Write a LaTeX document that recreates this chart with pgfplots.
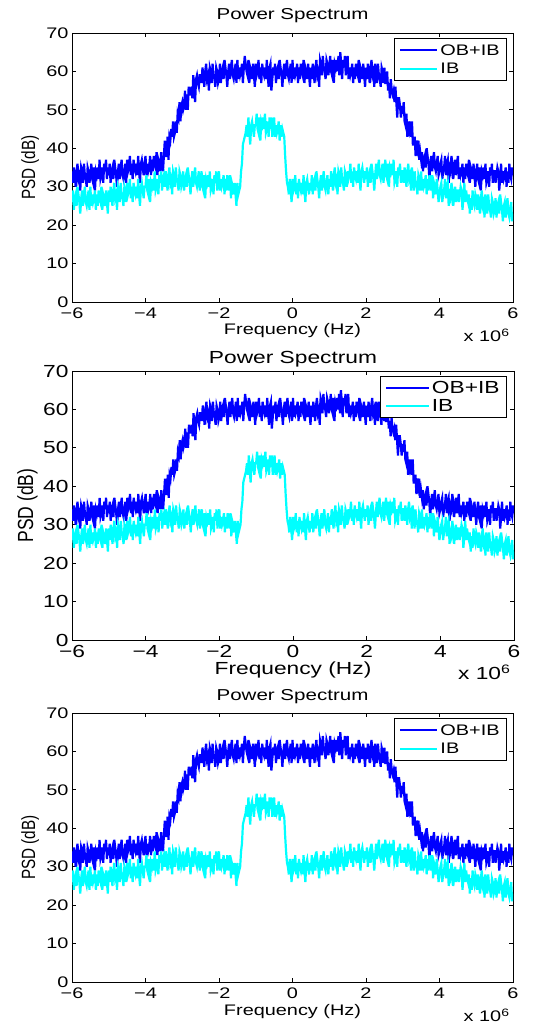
\documentclass[border=0pt]{standalone}
\usepackage{pgfplots}
\pgfplotsset{compat=1.18}
\usepackage{pgfplotstable}
\usepackage{fontspec}
\setmainfont{Liberation Sans}[FakeStretch=1.3]
\newfontfamily\ylabfont{Liberation Sans}
\definecolor{mblue}{rgb}{0,0,1}
\definecolor{mcyan}{rgb}{0,1,1}

\pgfplotstableread{
x ob ib
-6.000 34 26
-5.975 31 29
-5.950 35 24
-5.925 33 27
-5.900 30 28
-5.875 34 25
-5.850 36 30
-5.825 32 28
-5.800 33 26
-5.775 29 23
-5.750 35 27
-5.725 34 29
-5.700 31 25
-5.675 36 28
-5.650 33 30
-5.625 32 26
-5.600 30 25
-5.575 35 27
-5.550 34 29
-5.525 31 24
-5.500 33 30
-5.475 36 25
-5.450 32 28
-5.425 31 26
-5.400 35 27
-5.375 29 29
-5.350 34 24
-5.325 33 28
-5.300 35 25
-5.275 32 29
-5.250 37 27
-5.225 32 26
-5.200 33 30
-5.175 35 24
-5.150 31 28
-5.125 36 27
-5.100 34 25
-5.075 37 29
-5.050 32 26
-5.025 35 23
-5.000 33 29
-4.975 36 26
-4.950 31 30
-4.925 34 28
-4.900 35 25
-4.875 32 29
-4.850 37 31
-4.825 35 27
-4.800 33 28
-4.775 30 24
-4.750 34 30
-4.725 36 29
-4.700 32 26
-4.675 35 31
-4.650 37 28
-4.625 33 27
-4.600 32 25
-4.575 34 30
-4.550 36 29
-4.525 31 26
-4.500 37 31
-4.475 34 28
-4.450 35 29
-4.425 38 32
-4.400 33 27
-4.375 36 30
-4.350 32 26
-4.325 37 31
-4.300 35 29
-4.275 34 28
-4.250 36 30
-4.225 33 27
-4.200 38 32
-4.175 34 28
-4.150 31 25
-4.125 36 30
-4.100 37 31
-4.075 35 29
-4.050 33 27
-4.025 36 30
-4.000 38 30
-3.975 33 33
-3.950 36 29
-3.925 34 28
-3.900 35 32
-3.875 38 26
-3.850 33 31
-3.825 37 30
-3.800 34 32
-3.775 38 29
-3.750 36 34
-3.725 35 29
-3.700 39 30
-3.675 33 32
-3.650 37 28
-3.625 36 33
-3.600 34 31
-3.575 39 34
-3.550 36 29
-3.525 34 32
-3.500 38 33
-3.475 42 30
-3.450 38 34
-3.425 38 32
-3.400 43 29
-3.375 37 33
-3.350 43 35
-3.325 42 31
-3.300 45 32
-3.275 43 28
-3.250 47 34
-3.225 43 33
-3.200 44 30
-3.175 47 35
-3.150 44 32
-3.125 49 31
-3.100 48 29
-3.075 52 34
-3.050 47 33
-3.025 51 30
-3.000 52 31
-2.975 50 34
-2.950 51 29
-2.925 55 32
-2.900 50 33
-2.875 54 30
-2.850 50 35
-2.825 56 33
-2.800 54 31
-2.775 54 28
-2.750 56 32
-2.725 53 34
-2.700 59 30
-2.675 55 33
-2.650 52 35
-2.625 58 31
-2.600 59 30
-2.575 57 32
-2.550 56 34
-2.525 59 29
-2.500 59 32
-2.475 57 34
-2.450 61 30
-2.425 59 29
-2.400 56 33
-2.375 60 27
-2.350 62 32
-2.325 58 31
-2.300 59 33
-2.275 55 30
-2.250 61 34
-2.225 60 29
-2.200 57 30
-2.175 62 32
-2.150 59 28
-2.125 58 33
-2.100 56 31
-2.075 61 34
-2.050 60 29
-2.025 57 32
-2.000 58 34
-1.975 62 29
-1.950 57 32
-1.925 60 30
-1.900 61 31
-1.875 58 33
-1.850 63 28
-1.825 61 32
-1.800 59 29
-1.775 56 33
-1.750 60 31
-1.725 62 29
-1.700 58 33
-1.675 61 27
-1.650 63 31
-1.625 59 30
-1.600 58 28
-1.575 60 31
-1.550 62 28
-1.525 57 25
-1.500 63 31
-1.475 58 28
-1.450 61 29
-1.425 59 30
-1.400 60 34
-1.375 62 36
-1.350 57 41
-1.325 61 42
-1.300 64 43
-1.275 62 44
-1.250 60 46
-1.225 59 43
-1.200 63 48
-1.175 57 44
-1.150 61 41
-1.125 60 46
-1.100 58 47
-1.075 62 45
-1.050 59 43
-1.025 56 46
-1.000 62 46
-0.975 59 49
-0.950 60 45
-0.925 63 44
-0.900 58 48
-0.875 61 42
-0.850 57 47
-0.825 62 46
-0.800 60 48
-0.775 59 45
-0.750 61 49
-0.725 58 44
-0.700 63 45
-0.675 59 47
-0.650 56 43
-0.625 61 48
-0.600 62 45
-0.575 55 48
-0.550 58 43
-0.525 61 46
-0.500 59 48
-0.475 62 43
-0.450 57 46
-0.425 60 44
-0.400 61 45
-0.375 58 47
-0.350 63 42
-0.325 61 46
-0.300 59 43
-0.275 56 45
-0.250 60 44
-0.225 62 43
-0.200 58 38
-0.175 61 34
-0.150 63 31
-0.125 59 30
-0.100 58 28
-0.075 60 32
-0.050 62 29
-0.025 57 26
0.000 63 32
0.025 58 29
0.050 61 30
0.075 59 33
0.100 60 28
0.125 62 31
0.150 57 27
0.175 61 32
0.200 58 30
0.225 62 29
0.250 60 31
0.275 59 28
0.300 63 33
0.325 57 29
0.350 61 26
0.375 60 31
0.400 58 32
0.425 62 30
0.450 59 28
0.475 56 31
0.500 61 29
0.525 58 33
0.550 62 28
0.575 60 31
0.600 57 32
0.625 61 29
0.650 63 34
0.675 59 32
0.700 60 30
0.725 56 27
0.750 63 31
0.775 62 33
0.800 59 29
0.825 64 32
0.850 61 34
0.875 60 30
0.900 58 29
0.925 63 31
0.950 62 33
0.975 59 28
1.000 61 32
1.025 64 30
1.050 60 34
1.075 59 32
1.100 63 29
1.125 57 33
1.150 62 35
1.175 61 31
1.200 63 32
1.225 60 28
1.250 64 34
1.275 59 33
1.300 65 30
1.325 62 35
1.350 58 32
1.375 63 31
1.400 61 29
1.425 64 34
1.450 59 33
1.475 62 30
1.500 64 34
1.525 58 32
1.550 61 33
1.575 59 36
1.600 60 31
1.625 62 34
1.650 57 30
1.675 61 35
1.700 58 33
1.725 62 32
1.750 60 34
1.775 59 31
1.800 63 36
1.825 57 32
1.850 61 29
1.875 60 34
1.900 58 35
1.925 62 33
1.950 59 31
1.975 56 34
2.000 61 32
2.025 58 35
2.050 62 30
2.075 60 33
2.100 57 34
2.125 61 31
2.150 63 36
2.175 59 34
2.200 60 32
2.225 56 29
2.250 62 33
2.275 60 36
2.300 57 32
2.325 62 35
2.350 59 37
2.375 58 33
2.400 56 32
2.425 61 34
2.450 60 36
2.475 57 31
2.500 61 34
2.525 57 37
2.550 57 33
2.575 60 32
2.600 55 36
2.625 57 30
2.650 53 35
2.675 58 34
2.700 55 36
2.725 54 33
2.750 55 37
2.775 52 31
2.800 56 32
2.825 52 34
2.850 48 30
2.875 53 35
2.900 53 33
2.925 51 36
2.950 48 31
2.975 51 34
3.000 49 34
3.025 52 31
3.050 47 35
3.075 46 33
3.100 49 30
3.125 43 34
3.150 47 36
3.175 45 32
3.200 47 33
3.225 43 29
3.250 47 35
3.275 41 32
3.300 41 29
3.325 43 34
3.350 38 31
3.375 42 30
3.400 40 28
3.425 42 33
3.450 37 32
3.475 39 29
3.500 37 34
3.525 39 29
3.550 34 32
3.575 37 30
3.600 38 31
3.625 35 33
3.650 40 28
3.675 38 32
3.700 36 29
3.725 32 33
3.750 36 31
3.775 38 29
3.800 34 33
3.825 37 27
3.850 39 31
3.875 35 30
3.900 34 28
3.925 36 32
3.950 38 29
3.975 33 26
4.000 34 28
4.025 36 30
4.050 37 31
4.075 32 26
4.100 34 28
4.125 35 29
4.150 38 32
4.175 33 27
4.200 36 30
4.225 37 31
4.250 31 25
4.275 35 28
4.300 34 27
4.325 38 31
4.350 36 29
4.375 32 25
4.400 35 28
4.425 37 30
4.450 33 26
4.475 36 29
4.500 38 29
4.525 32 26
4.550 35 28
4.575 33 30
4.600 34 29
4.625 36 24
4.650 31 27
4.675 35 31
4.700 32 26
4.725 36 29
4.750 34 27
4.775 33 26
4.800 37 28
4.825 31 23
4.850 35 27
4.875 34 24
4.900 32 29
4.925 36 26
4.950 33 25
4.975 30 28
5.000 34 27
5.025 36 24
5.050 32 28
5.075 31 26
5.100 35 23
5.125 29 27
5.150 34 29
5.175 33 25
5.200 35 26
5.225 32 22
5.250 36 28
5.275 31 26
5.300 32 23
5.325 34 28
5.350 30 25
5.375 35 24
5.400 33 22
5.425 36 27
5.450 31 26
5.475 34 23
5.500 34 24
5.525 31 27
5.550 33 22
5.575 35 25
5.600 34 26
5.625 29 23
5.650 32 28
5.675 36 26
5.700 31 24
5.725 34 21
5.750 32 25
5.775 33 26
5.800 35 22
5.825 30 25
5.850 34 27
5.875 31 23
5.900 36 22
5.925 33 24
5.950 32 26
5.975 35 21
6.000 33 23
}\spec

\pgfplotsset{
  every axis title shift=0pt,
  psd/.style={
    scale only axis, width=441bp, height=269bp,
    xmin=-6, xmax=6, ymin=0, ymax=70,
    xtick={-6,-4,...,6}, xticklabels={−6,−4,−2,0,2,4,6},
    ytick={0,10,...,70},
    tick align=inside, tick pos=both, major tick length=4bp,
    axis line style={line width=0.8bp, black},
    every tick/.style={line width=0.8bp, black},
    /pgf/number format/assume math mode=true,
    title={Power Spectrum},
    xlabel={Frequency (Hz)},
    ylabel={\ylabfont\scalebox{1}[1.25]{PSD (dB)}},
    xticklabel style={yshift=-2bp},
    legend cell align=left,
    legend style={anchor=north east, draw=black, line width=0.8bp,
      inner xsep=5bp, inner ysep=4bp, row sep=2bp},
  },
  fs/.style={
    tick label style={font=\fontsize{#1}{#1}\selectfont},
    label style={font=\fontsize{#1}{#1}\selectfont},
    title style={font=\fontsize{#1}{#1}\selectfont},
    legend style={font=\fontsize{#1}{#1}\selectfont},
  },
  obline/.style={color=mblue, line width=2.2bp},
  ibline/.style={color=mcyan, line width=2.2bp},
}

\begin{document}
\begin{tikzpicture}[x=1bp,y=1bp]
\useasboundingbox (0,0) rectangle (554,1025);

% ---- Plot 1 ----
\begin{axis}[psd, fs=15.3bp, name=ax1,
  at={(72bp,723bp)}, anchor=south west,
  title style={at={(axis description cs:0.5,1)}, anchor=base, yshift=13bp, font=\fontsize{15.8bp}{15.8bp}\selectfont},
  xlabel style={at={(axis description cs:0.5,0)}, anchor=base, yshift=-33bp},
  ylabel style={at={(axis description cs:-0.0839,0.5)}, anchor=base},
  legend style={at={(0.9864,0.9814)}},
  legend image code/.code={\draw[#1,line width=2bp] (0bp,0bp) -- (37bp,0bp);},
]
\addplot[obline] table[x=x,y=ob] {\spec};
\addplot[ibline] table[x=x,y=ib] {\spec};
\legend{OB+IB,IB}
\end{axis}
\node[anchor=base east, font=\fontsize{15.3bp}{15.3bp}\selectfont] at ([yshift=-40bp]ax1.south east) {x 10\textsuperscript{6}};

% ---- Plot 2 ----
\begin{axis}[psd, fs=17.5bp, name=ax2,
  at={(72bp,385bp)}, anchor=south west, width=442bp,
  title style={at={(axis description cs:0.5,1)}, anchor=base, yshift=7bp},
  xlabel style={at={(axis description cs:0.5,0)}, anchor=base, yshift=-35bp},
  ylabel style={at={(axis description cs:-0.0882,0.5)}, anchor=base},
  legend style={at={(0.984,0.981)}, row sep=0bp, inner ysep=3bp},
  legend image code/.code={\draw[#1,line width=2bp] (0bp,0bp) -- (43bp,0bp);},
]
\addplot[obline] table[x=x,y=ob] {\spec};
\addplot[ibline] table[x=x,y=ib] {\spec};
\legend{OB+IB,IB}
\end{axis}
\node[anchor=base east, font=\fontsize{17.5bp}{17.5bp}\selectfont] at ([yshift=-40bp]ax2.south east) {x 10\textsuperscript{6}};

% ---- Plot 3 ----
\begin{axis}[psd, fs=15.3bp, name=ax3,
  at={(72bp,43bp)}, anchor=south west,
  title style={at={(axis description cs:0.5,1)}, anchor=base, yshift=13bp, font=\fontsize{15.8bp}{15.8bp}\selectfont},
  xlabel style={at={(axis description cs:0.5,0)}, anchor=base, yshift=-33bp},
  ylabel style={at={(axis description cs:-0.0839,0.5)}, anchor=base},
  legend style={at={(0.9864,0.9814)}},
  legend image code/.code={\draw[#1,line width=2bp] (0bp,0bp) -- (37bp,0bp);},
]
\addplot[obline] table[x=x,y=ob] {\spec};
\addplot[ibline] table[x=x,y=ib] {\spec};
\legend{OB+IB,IB}
\end{axis}
\node[anchor=base east, font=\fontsize{15.3bp}{15.3bp}\selectfont] at ([yshift=-40bp]ax3.south east) {x 10\textsuperscript{6}};
\end{tikzpicture}
\end{document}
